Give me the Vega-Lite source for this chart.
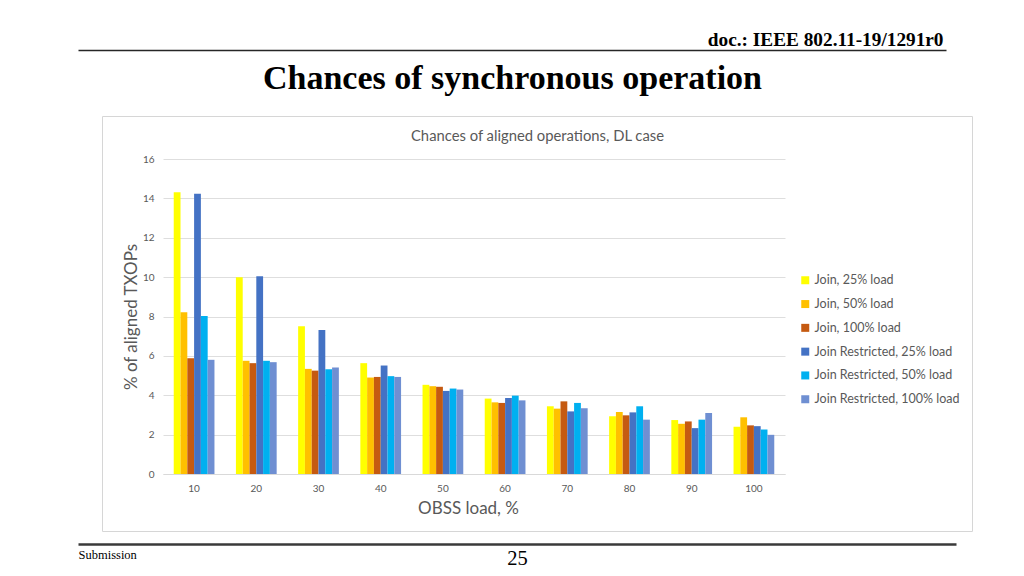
{
  "$schema": "https://vega.github.io/schema/vega-lite/v6.json",
  "width": 870,
  "height": 415,
  "autosize": {"type": "none"},
  "padding": {"left": 102, "top": 116, "right": 52, "bottom": 45},
  "background": "white",
  "config": {
    "view": {"stroke": "#d6d6d6", "strokeWidth": 1},
    "font": "Lato"
  },
  "datasets": {
    "bars": [
      {"load": 10, "series": "Join, 25% load", "value": 14.31},
      {"load": 10, "series": "Join, 50% load", "value": 8.22},
      {"load": 10, "series": "Join, 100% load", "value": 5.88},
      {"load": 10, "series": "Join Restricted, 25% load", "value": 14.24},
      {"load": 10, "series": "Join Restricted, 50% load", "value": 8.03},
      {"load": 10, "series": "Join Restricted, 100% load", "value": 5.80},
      {"load": 20, "series": "Join, 25% load", "value": 10.0},
      {"load": 20, "series": "Join, 50% load", "value": 5.75},
      {"load": 20, "series": "Join, 100% load", "value": 5.63},
      {"load": 20, "series": "Join Restricted, 25% load", "value": 10.05},
      {"load": 20, "series": "Join Restricted, 50% load", "value": 5.75},
      {"load": 20, "series": "Join Restricted, 100% load", "value": 5.68},
      {"load": 30, "series": "Join, 25% load", "value": 7.51},
      {"load": 30, "series": "Join, 50% load", "value": 5.34},
      {"load": 30, "series": "Join, 100% load", "value": 5.25},
      {"load": 30, "series": "Join Restricted, 25% load", "value": 7.32},
      {"load": 30, "series": "Join Restricted, 50% load", "value": 5.32},
      {"load": 30, "series": "Join Restricted, 100% load", "value": 5.41},
      {"load": 40, "series": "Join, 25% load", "value": 5.63},
      {"load": 40, "series": "Join, 50% load", "value": 4.90},
      {"load": 40, "series": "Join, 100% load", "value": 4.93},
      {"load": 40, "series": "Join Restricted, 25% load", "value": 5.51},
      {"load": 40, "series": "Join Restricted, 50% load", "value": 4.97},
      {"load": 40, "series": "Join Restricted, 100% load", "value": 4.93},
      {"load": 50, "series": "Join, 25% load", "value": 4.53},
      {"load": 50, "series": "Join, 50% load", "value": 4.46},
      {"load": 50, "series": "Join, 100% load", "value": 4.43},
      {"load": 50, "series": "Join Restricted, 25% load", "value": 4.22},
      {"load": 50, "series": "Join Restricted, 50% load", "value": 4.34},
      {"load": 50, "series": "Join Restricted, 100% load", "value": 4.29},
      {"load": 60, "series": "Join, 25% load", "value": 3.83},
      {"load": 60, "series": "Join, 50% load", "value": 3.64},
      {"load": 60, "series": "Join, 100% load", "value": 3.61},
      {"load": 60, "series": "Join Restricted, 25% load", "value": 3.86},
      {"load": 60, "series": "Join Restricted, 50% load", "value": 3.98},
      {"load": 60, "series": "Join Restricted, 100% load", "value": 3.74},
      {"load": 70, "series": "Join, 25% load", "value": 3.44},
      {"load": 70, "series": "Join, 50% load", "value": 3.32},
      {"load": 70, "series": "Join, 100% load", "value": 3.69},
      {"load": 70, "series": "Join Restricted, 25% load", "value": 3.18},
      {"load": 70, "series": "Join Restricted, 50% load", "value": 3.61},
      {"load": 70, "series": "Join Restricted, 100% load", "value": 3.34},
      {"load": 80, "series": "Join, 25% load", "value": 2.93},
      {"load": 80, "series": "Join, 50% load", "value": 3.15},
      {"load": 80, "series": "Join, 100% load", "value": 2.98},
      {"load": 80, "series": "Join Restricted, 25% load", "value": 3.13},
      {"load": 80, "series": "Join Restricted, 50% load", "value": 3.44},
      {"load": 80, "series": "Join Restricted, 100% load", "value": 2.76},
      {"load": 90, "series": "Join, 25% load", "value": 2.74},
      {"load": 90, "series": "Join, 50% load", "value": 2.55},
      {"load": 90, "series": "Join, 100% load", "value": 2.67},
      {"load": 90, "series": "Join Restricted, 25% load", "value": 2.33},
      {"load": 90, "series": "Join Restricted, 50% load", "value": 2.76},
      {"load": 90, "series": "Join Restricted, 100% load", "value": 3.10},
      {"load": 100, "series": "Join, 25% load", "value": 2.40},
      {"load": 100, "series": "Join, 50% load", "value": 2.88},
      {"load": 100, "series": "Join, 100% load", "value": 2.47},
      {"load": 100, "series": "Join Restricted, 25% load", "value": 2.43},
      {"load": 100, "series": "Join Restricted, 50% load", "value": 2.26},
      {"load": 100, "series": "Join Restricted, 100% load", "value": 1.99}
    ]
  },
  "resolve": {"scale": {"x": "independent"}, "axis": {"x": "independent"}},
  "layer": [
    {
      "data": {"name": "bars"},
      "mark": {"type": "bar"},
      "encoding": {
        "x": {
          "field": "load", "type": "ordinal",
          "scale": {"range": [61, 683], "paddingInner": 0.345, "paddingOuter": 0.1725},
          "axis": {
            "orient": "bottom", "offset": -57, "labelAngle": 0,
            "domainColor": "#d9d9d9", "ticks": false, "labelPadding": 9,
            "labelColor": "#595959", "labelFontSize": 10, "labelFont": "Lato",
            "title": "OBSS load, %", "titleColor": "#595959", "titleFontSize": 17,
            "titleFontWeight": "normal", "titleFont": "Lato", "titlePadding": 7,
            "titleX": 366
          }
        },
        "xOffset": {
          "field": "series",
          "sort": ["Join, 25% load", "Join, 50% load", "Join, 100% load", "Join Restricted, 25% load", "Join Restricted, 50% load", "Join Restricted, 100% load"]
        },
        "y": {
          "field": "value", "type": "quantitative",
          "scale": {"domain": [0, 16], "range": [358, 43], "nice": false},
          "axis": {
            "orient": "left", "offset": -61, "values": [0, 2, 4, 6, 8, 10, 12, 14, 16],
            "domain": false, "ticks": false, "labelPadding": 9,
            "labelColor": "#595959", "labelFontSize": 10, "labelFont": "Lato",
            "gridColor": "#dedede", "gridWidth": 1,
            "title": "% of aligned TXOPs", "titleColor": "#595959", "titleFontSize": 17,
            "titleFontWeight": "normal", "titleFont": "Lato", "titlePadding": 2
          }
        },
        "color": {
          "field": "series", "type": "nominal",
          "scale": {
            "domain": ["Join, 25% load", "Join, 50% load", "Join, 100% load", "Join Restricted, 25% load", "Join Restricted, 50% load", "Join Restricted, 100% load"],
            "range": ["#ffff00", "#ffc000", "#c55a11", "#4472c4", "#00b0f0", "#6f8fd2"]
          },
          "legend": {
            "orient": "none", "legendX": 697, "legendY": 158, "title": null,
            "symbolType": "square", "symbolSize": 64, "symbolStrokeWidth": 0,
            "labelFontSize": 12.5, "labelColor": "#595959", "labelFont": "Lato",
            "rowPadding": 10.8, "labelOffset": 3
          }
        }
      }
    },
    {
      "mark": {"type": "rule", "opacity": 0},
      "encoding": {
        "x": {
          "datum": 0, "type": "quantitative",
          "scale": {"domain": [0, 1], "range": [-24, 844], "nice": false, "zero": false},
          "axis": {
            "orient": "top", "offset": 66, "domain": true, "domainColor": "#262626", "domainWidth": 1.5,
            "ticks": false, "labels": false, "grid": false,
            "title": "doc.: IEEE 802.11-19/1291r0", "titleAnchor": "end", "titleAlign": "right",
            "titleFont": "Liberation Serif", "titleFontSize": 19.3, "titleFontWeight": "bold",
            "titleColor": "#000000", "titlePadding": 1, "titleX": 841
          }
        }
      }
    },
    {
      "mark": {"type": "rule", "opacity": 0},
      "encoding": {
        "x": {
          "datum": 0, "type": "quantitative",
          "scale": {"domain": [0, 1], "range": [-24, 844], "nice": false, "zero": false},
          "axis": {
            "orient": "top", "offset": 0, "domain": false,
            "ticks": false, "labels": false, "grid": false, "minExtent": 0, "maxExtent": 0,
            "title": "Chances of synchronous operation",
            "titleFont": "Liberation Serif", "titleFontSize": 34, "titleFontWeight": "bold",
            "titleColor": "#000000", "titlePadding": 21
          }
        }
      }
    },
    {
      "mark": {"type": "rule", "opacity": 0},
      "encoding": {
        "x": {
          "datum": 0, "type": "quantitative",
          "scale": {"domain": [0, 1], "range": [0, 870], "nice": false, "zero": false},
          "axis": {
            "orient": "top", "offset": -27, "domain": false,
            "ticks": false, "labels": false, "grid": false, "minExtent": 0, "maxExtent": 0,
            "title": "Chances of aligned operations, DL case",
            "titleFont": "Lato", "titleFontSize": 14.8, "titleFontWeight": "normal",
            "titleColor": "#595959", "titlePadding": 0
          }
        }
      }
    },
    {
      "mark": {"type": "rule", "opacity": 0},
      "encoding": {
        "x": {
          "datum": 0, "type": "quantitative",
          "scale": {"domain": [0, 1], "range": [-24, 854], "nice": false, "zero": false},
          "axis": {
            "orient": "bottom", "offset": 13, "domain": true, "domainColor": "#3a3a3a", "domainWidth": 2.5,
            "ticks": false, "grid": false, "title": null,
            "values": [0, 0.5], "labelExpr": "datum.value == 0 ? 'Submission' : '25'",
            "labelOverlap": false, "labelFlush": false, "labelBound": false,
            "labelFont": "Liberation Serif", "labelColor": "#000000",
            "labelFontSize": {"condition": {"test": "datum.value == 0", "value": 12.5}, "value": 20.5},
            "labelAlign": {"condition": {"test": "datum.value == 0", "value": "left"}, "value": "center"},
            "labelPadding": 4
          }
        }
      }
    }
  ]
}
